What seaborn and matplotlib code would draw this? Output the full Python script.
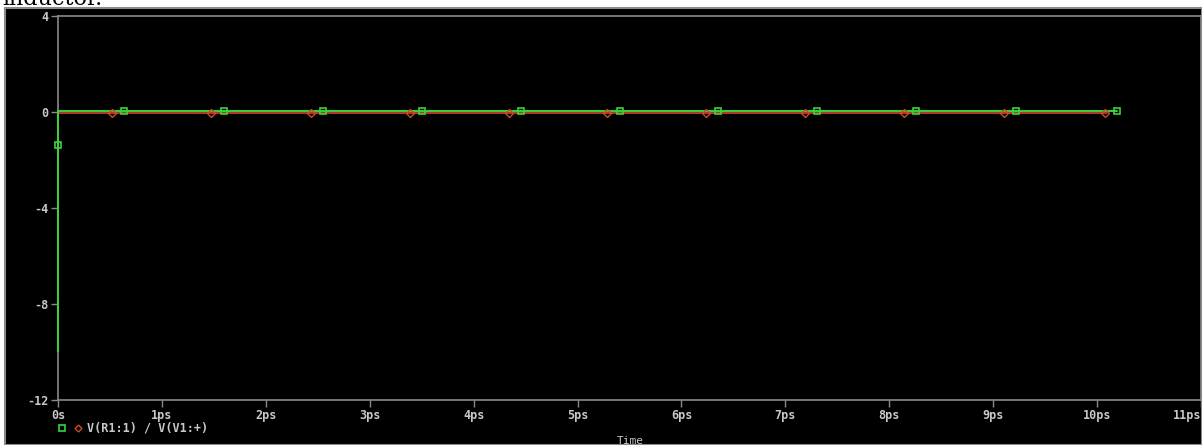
import matplotlib
matplotlib.use("Agg")
import matplotlib.pyplot as plt
import matplotlib.transforms as mtransforms
from matplotlib.lines import Line2D
from matplotlib.patches import Rectangle
import numpy as np
import pandas as pd
import seaborn as sns

# ---- data (time in ps, voltage ratio) ----
green_time = [0.0, 0.0, 0.0, 0.02, 10.19]
green_value = [-10.0, -1.4, 0.0, 0.0, 0.0]
green_marker_time = [0.0, 0.635, 1.596, 2.548, 3.50, 4.452, 5.404, 6.356, 7.308, 8.26, 9.22, 10.19]
green_marker_value = [-1.4, 0, 0, 0, 0, 0, 0, 0, 0, 0, 0, 0]

red_time = [0.0, 10.10]
red_value = [0.0, 0.0]
red_marker_time = [0.519, 1.471, 2.433, 3.385, 4.337, 5.288, 6.240, 7.192, 8.144, 9.10, 10.08]
red_marker_value = [0, 0, 0, 0, 0, 0, 0, 0, 0, 0, 0]

x_ticks = list(range(0, 12))
x_labels = ["0s"] + [f"{i}ps" for i in range(1, 12)]
y_ticks = [4, 0, -4, -8, -12]
y_labels = ["4", "0", "-4", "-8", "-12"]
trace_label = "V(R1:1) / V(V1:+)"

GREEN = "#3ad43a"
RED = "#d0482a"
GRAY = "#8a8a8a"
TXT = "#c8c8c8"

sns.set_style("dark")
plt.rcParams["font.family"] = ["DejaVu Sans Mono", "DejaVu Sans"]

W, H = 1202, 445
fig = plt.figure(figsize=(W / 100, H / 100), dpi=100, facecolor="white")

# black probe window with grey frame, document text peeking above it
fig.add_artist(Rectangle((5 / W, 0), 1 - 5 / W, (H - 8) / H, transform=fig.transFigure,
                         facecolor="black", edgecolor=GRAY, lw=1.5, zorder=1))
fig.text(2 / W, 1 - 5 / H, "inductor.", fontsize=16, family="DejaVu Serif",
         color="black", va="baseline", ha="left", zorder=0.5)

ax = fig.add_axes([58 / W, (H - 400) / H, (1201 - 58) / W, (400 - 16) / H])
ax.set_zorder(2)
ax.set_facecolor("black")

green_df = pd.DataFrame({"t": green_time, "v": green_value})
red_df = pd.DataFrame({"t": red_time, "v": red_value})
gm_df = pd.DataFrame({"t": green_marker_time, "v": green_marker_value})
rm_df = pd.DataFrame({"t": red_marker_time, "v": red_marker_value})

up = mtransforms.offset_copy(ax.transData, fig=fig, x=0, y=0.6, units="points")
down = mtransforms.offset_copy(ax.transData, fig=fig, x=0, y=-0.6, units="points")

sns.lineplot(data=red_df, x="t", y="v", ax=ax, color=RED, lw=1.2,
             estimator=None, sort=False, transform=down, zorder=3)
sns.lineplot(data=green_df, x="t", y="v", ax=ax, color=GREEN, lw=1.4,
             estimator=None, sort=False, transform=up, zorder=4, clip_on=False)
ax.plot(rm_df["t"], rm_df["v"], ls="none", marker="D", ms=4, mfc="none",
        mec=RED, mew=1, transform=down, zorder=5)
ax.plot(gm_df["t"], gm_df["v"], ls="none", marker="s", ms=5, mfc="none",
        mec=GREEN, mew=1.2, transform=up, zorder=6, clip_on=False)

ax.set_xlim(0, 11)
ax.set_ylim(-12, 4)
ax.set_xticks(x_ticks)
ax.set_xticklabels(x_labels)
ax.set_yticks(y_ticks)
ax.set_yticklabels(y_labels)
ax.grid(False)
ax.tick_params(axis="both", colors=GRAY, labelcolor=TXT, labelsize=8.5,
               length=5, width=1, direction="out", left=True, bottom=True)
for lab in ax.get_xticklabels() + ax.get_yticklabels():
    lab.set_fontweight("bold")
ax.get_xticklabels()[-1].set_horizontalalignment("right")
ax.tick_params(axis="x", pad=1.5)
ax.tick_params(axis="y", pad=2)
for side in ["left", "bottom", "top", "right"]:
    ax.spines[side].set_visible(True)
    ax.spines[side].set_color(GRAY)
    ax.spines[side].set_linewidth(1.2)
ax.set_xlabel("")
ax.set_ylabel("")

# axis title and legend below the plot
fig.text(630 / W, 1 - 441 / H, "Time", color=TXT, fontsize=8, ha="center", va="center",
         zorder=3)
fig.add_artist(Line2D([62 / W], [1 - 428 / H], transform=fig.transFigure, marker="s",
                      ms=4.5, mfc="none", mec=GREEN, mew=1.2, ls="none", zorder=3))
fig.add_artist(Line2D([78 / W], [1 - 428 / H], transform=fig.transFigure, marker="D",
                      ms=3.5, mfc="none", mec=RED, mew=1, ls="none", zorder=3))
fig.text(87 / W, 1 - 428 / H, trace_label, color=TXT, fontsize=8.5, fontweight="bold",
         ha="left", va="center", zorder=3)

fig.savefig("out.png", dpi=100, facecolor="white")
